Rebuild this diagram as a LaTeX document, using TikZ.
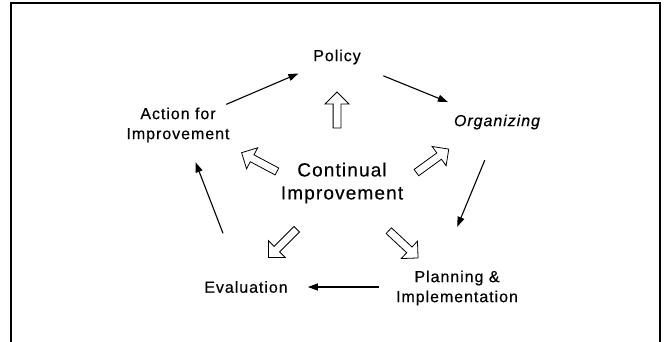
\documentclass[tikz,border=0pt]{standalone}
\usepackage{fontspec}
\setmainfont{Liberation Sans}[LetterSpace=6,FakeBold=0.4]
\usetikzlibrary{shapes.arrows}
\usetikzlibrary{arrows.meta}
\usetikzlibrary{positioning}

\tikzset{
	stage/.style={align=center, inner sep=1pt, font=\fontsize{16}{20}\selectfont},
	core/.style={align=center, inner sep=1pt, font=\fontsize{19}{23}\selectfont},
	flow/.style={-{Triangle[length=10pt,width=7pt]}, line width=1.1pt},
	hollow/.style={single arrow, draw, fill=white, line width=0.8pt, inner sep=3.5pt,
		minimum height=40pt, single arrow head extend=8pt, single arrow head indent=0pt}
}

\begin{document}
\begin{tikzpicture}[x=1pt,y=1pt]
	\useasboundingbox (0,0) rectangle (664,-342);
	\draw[line width=1.5pt] (11,-342) -- (11,-3) -- (660,-3) -- (660,-342);

	% the five stages
	\node[stage] (pol) at (337,-57) {Policy};
	\node[stage] (org) at (497,-122) {\itshape Organizing};
	\node[stage] (plan) at (457,-288) {Planning \&\\Implementation};
	\node[stage] (eval) at (246,-287) {Evaluation};
	\node[stage] (act) at (178,-125) {Action for\\Improvement};
	\node[core] (ci) at (342,-183) {Continual\\Improvement};

	% hollow arrows out of the centre
	\node[hollow, rotate=90, minimum height=36pt] (hup) at (337,-112) {};
	\node[hollow, rotate=152] (hul) at (261,-163) {};
	\node[hollow, rotate=36] (hur) at (431,-162) {};
	\node[hollow, rotate=225] (hll) at (284,-242) {};
	\node[hollow, rotate=317] (hlr) at (402,-243) {};

	% the cycle
	\draw[flow, shorten <=5pt, shorten >=20pt] (act) -- (pol);
	\draw[flow, shorten <=27pt, shorten >=30pt] (pol) -- (org);
	\draw[flow, shorten <=32pt, shorten >=46pt] (org.south) -- (plan.133);
	\draw[flow, shorten <=16pt, shorten >=19pt] (plan.west |- eval) -- (eval.east);
	\draw[flow, shorten <=50pt, shorten >=20pt] (eval.125) -- (act.-61);
\end{tikzpicture}
\end{document}
